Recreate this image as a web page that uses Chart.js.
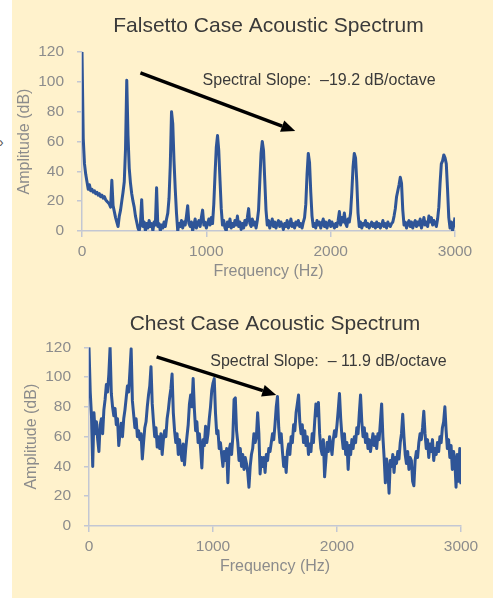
<!DOCTYPE html>
<html>
<head>
<meta charset="utf-8">
<script src="https://cdn.jsdelivr.net/npm/chart.js@4.4.1/dist/chart.umd.min.js"></script>
<style>
  html, body { margin: 0; padding: 0; background: #ffffff; }
  body { width: 495px; height: 599px; position: relative; overflow: hidden; font-family: "Liberation Sans", Arial, sans-serif; }
  #panel { position: absolute; left: 12px; top: 0; width: 481px; height: 598px; background: #FFF2CC; }
  #box1 { position: absolute; left: 0; top: 0; }
  #box2 { position: absolute; left: 0; top: 300px; }
  #mark { position: absolute; left: -1px; top: 134px; color: #555; font-size: 14px; }
</style>
</head>
<body>
<span id="mark">›</span>
<div id="panel">
  <canvas id="box1" width="481" height="290"></canvas>
  <canvas id="box2" width="481" height="298"></canvas>
</div>
<script>
// sample frequencies, every 10 Hz from 0 to 3000
const freqStep = 10;
const freqs = [];
for (let f = 0; f <= 3000; f += freqStep) freqs.push(f);

// falsetto spectrum amplitudes (dB), one row = 100 Hz
const falsettoAmp = [
  120, 62, 45, 38, 33, 28, 31, 27, 28, 26,
  27, 25, 26, 24, 25, 23, 24, 22, 23, 21,
  20, 19, 18, 16, 34, 17, 13, 9, 6, 3,
  10, 14, 20, 26, 33, 55, 101, 64, 42, 32,
  25, 20, 16, 10, 6, 2, 0, 5, 21, 3,
  6, 0, 5, 2, 7, 3, 5, 0, 6, 4,
  29, 3, 5, 0, 4, 2, 6, 3, 8, 12,
  22, 44, 80, 72, 47, 28, 12, 0, 5, 3,
  7, 2, 6, 4, 10, 17, 5, 3, 6, 0,
  4, 8, 2, 5, 7, 3, 9, 14, 4, 6,
  2, 5, 8, 4, 9, 5, 18, 38, 56, 64,
  54, 34, 15, 4, 7, 2, 0, 6, 3, 8,
  2, 5, 3, 7, 4, 10, 3, 6, 1, 5,
  2, 7, 4, 9, 15, 5, 3, 8, 4, 6,
  2, 7, 14, 33, 52, 60, 54, 34, 14, 4,
  7, 2, 5, 8, 3, 6, 2, 5, 7, 3,
  6, 4, 1, 5, 3, 7, 2, 4, 8, 3,
  5, 2, 6, 4, 7, 3, 5, 2, 6, 9,
  18, 38, 52, 46, 26, 10, 3, 5, 2, 7,
  4, 6, 2, 5, 8, 3, 6, 2, 5, 7,
  3, 6, 4, 2, 5, 3, 7, 13, 4, 9,
  6, 12, 5, 3, 8, 6, 12, 26, 43, 52,
  49, 33, 12, 3, 6, 2, 5, 4, 7, 3,
  5, 2, 4, 6, 3, 5, 2, 6, 3, 5,
  2, 4, 7, 3, 5, 2, 6, 4, 3, 5,
  6, 10, 15, 23, 27, 31, 36, 32, 14, 4,
  6, 2, 5, 7, 3, 6, 2, 5, 7, 3,
  6, 4, 8, 2, 5, 9, 4, 6, 3, 10,
  6, 9, 4, 7, 5, 3, 8, 16, 32, 45,
  47, 51, 49, 45, 28, 9, 2, 6, 0, 4,
  9
];

// chest spectrum amplitudes (dB), one row = 100 Hz
const chestAmp = [
  120, 90, 74, 40, 76, 62, 70, 58, 50, 68,
  72, 62, 78, 85, 95, 90, 102, 120, 89, 80,
  74, 79, 68, 72, 54, 62, 69, 60, 72, 78,
  86, 94, 90, 104, 119, 84, 75, 66, 72, 60,
  64, 58, 62, 45, 56, 66, 70, 80, 88, 94,
  107, 82, 70, 60, 66, 53, 60, 52, 62, 48,
  58, 64, 60, 72, 78, 86, 92, 102, 76, 64,
  56, 62, 48, 58, 50, 44, 55, 41, 52, 60,
  68, 82, 88, 80, 99, 78, 64, 70, 56, 62,
  52, 39, 58, 54, 67, 56, 62, 72, 80, 91,
  96, 99, 76, 62, 64, 52, 56, 48, 40, 50,
  44, 52, 29, 51, 55, 48, 60, 85, 86, 64,
  56, 44, 52, 40, 48, 38, 46, 42, 36, 26,
  40, 48, 52, 62, 56, 60, 76, 62, 35, 46,
  40, 46, 36, 48, 44, 52, 50, 56, 62, 58,
  68, 80, 87, 66, 56, 62, 50, 40, 46, 36,
  50, 55, 48, 60, 56, 68, 64, 76, 82, 88,
  70, 62, 68, 56, 64, 54, 60, 48, 55, 50,
  62, 56, 70, 82, 74, 83, 62, 52, 48, 58,
  33, 44, 56, 50, 60, 54, 48, 58, 64, 60,
  68, 78, 89, 72, 60, 52, 62, 48, 56, 38,
  54, 48, 58, 52, 60, 56, 66, 62, 76, 88,
  70, 60, 66, 56, 62, 52, 58, 50, 56, 62,
  54, 60, 52, 62, 58, 70, 82, 60, 46, 29,
  45, 38, 22, 44, 40, 48, 36, 46, 42, 50,
  45, 56, 62, 75, 60, 48, 42, 50, 38, 46,
  44, 30, 27, 44, 50, 46, 56, 62, 58, 66,
  77, 62, 52, 58, 46, 55, 50, 58, 44, 52,
  48, 56, 50, 60, 56, 66, 70, 80, 64, 52,
  58, 46, 54, 38, 50, 44, 26, 48, 30, 52,
  28
];

const xTicks = [0, 1000, 2000, 3000];
const yTicks = [0, 20, 40, 60, 80, 100, 120];

// slope annotations: arrow [Hz, dB] -> [Hz, dB], label anchor [Hz, dB]
const falsettoArrow = [[470, 106], [1715, 67]];
const falsettoLabelAt = [970, 101];
const chestArrow = [[545, 113.5], [1510, 88]];
const chestLabelAt = [978, 110.5];

const FONT = '"Liberation Sans", Arial, sans-serif';
const lineBlue = '#2F5597';
const axisGray = '#C3C7D3';
const tickGray = '#8C8C8C';
const darkText = '#3A3A3A';

const slopePlugin = {
    id: "slope",
    afterDatasetsDraw(chart, args, o) {
        const ctx = chart.ctx;
        const x = chart.scales.x;
        const y = chart.scales.y;
        const x1 = x.getPixelForValue(o.arrow[0][0]);
        const y1 = y.getPixelForValue(o.arrow[0][1]);
        const x2 = x.getPixelForValue(o.arrow[1][0]);
        const y2 = y.getPixelForValue(o.arrow[1][1]);
        const ang = Math.atan2(y2 - y1, x2 - x1);
        const head = 14, half = 6;
        const bx = x2 - head * Math.cos(ang);
        const by = y2 - head * Math.sin(ang);
        ctx.save();
        ctx.strokeStyle = "#000";
        ctx.fillStyle = "#000";
        ctx.lineWidth = 3.4;
        ctx.beginPath();
        ctx.moveTo(x1, y1);
        ctx.lineTo(bx, by);
        ctx.stroke();
        ctx.beginPath();
        ctx.moveTo(x2, y2);
        ctx.lineTo(bx + half * Math.sin(ang), by - half * Math.cos(ang));
        ctx.lineTo(bx - half * Math.sin(ang), by + half * Math.cos(ang));
        ctx.closePath();
        ctx.fill();
        ctx.font = "16px " + FONT;
        ctx.fillStyle = darkText;
        ctx.textAlign = "left";
        ctx.textBaseline = "middle";
        ctx.fillText(o.text, x.getPixelForValue(o.labelAt[0]), y.getPixelForValue(o.labelAt[1]));
        ctx.restore();
    }
};

function makeChart(id, amps, s) {
    const points = [];
    for (let i = 0; i < freqs.length; i++) {
        points.push({ x: freqs[i], y: amps[i] });
    }
    return new Chart(document.getElementById(id), {
        type: "line",
        data: {
            datasets: [{
                data: points,
                borderColor: lineBlue,
                borderWidth: 3,
                borderJoinStyle: "round",
                pointRadius: 0,
                tension: 0,
                fill: false
            }]
        },
        plugins: [slopePlugin],
        options: {
            responsive: false,
            animation: false,
            layout: { padding: { left: 0, right: s.padRight, top: 0, bottom: 0 } },
            plugins: {
                legend: { display: false },
                tooltip: { enabled: false },
                title: {
                    display: true,
                    text: s.title,
                    fullSize: false,
                    color: darkText,
                    font: { family: FONT, size: 21, weight: "normal" },
                    padding: { top: s.titleTop, bottom: s.titleBottom }
                },
                slope: { arrow: s.arrow, labelAt: s.labelAt, text: s.text }
            },
            scales: {
                x: {
                    type: "linear",
                    min: 0,
                    max: 3000,
                    afterBuildTicks: (sc) => { sc.ticks = xTicks.map(v => ({ value: v })); },
                    ticks: {
                        color: tickGray,
                        font: { family: FONT, size: 15.5 },
                        padding: s.xTickPad,
                        maxRotation: 0,
                        callback: (v) => String(v)
                    },
                    grid: { drawOnChartArea: false, drawTicks: true, tickLength: 6, color: axisGray, lineWidth: 1.5 },
                    border: { color: axisGray, width: 1.5 },
                    title: {
                        display: true,
                        text: "Frequency (Hz)",
                        color: tickGray,
                        font: { family: FONT, size: 16 },
                        padding: { top: 0, bottom: s.xTitlePad }
                    },
                    afterFit: (sc) => { sc.height = s.xHeight; }
                },
                y: {
                    min: 0,
                    max: 120,
                    afterBuildTicks: (sc) => { sc.ticks = yTicks.map(v => ({ value: v })); },
                    ticks: {
                        color: tickGray,
                        font: { family: FONT, size: 15.5 },
                        padding: 13
                    },
                    grid: { drawOnChartArea: false, drawTicks: true, tickLength: 5, color: axisGray, lineWidth: 1.5 },
                    border: { color: axisGray, width: 1.5 },
                    title: {
                        display: true,
                        text: "Amplitude (dB)",
                        color: tickGray,
                        font: { family: FONT, size: 16 },
                        padding: { top: s.yTitlePad, bottom: 0 }
                    },
                    afterFit: (sc) => { sc.width = s.yWidth; }
                }
            }
        }
    });
}

makeChart("box1", falsettoAmp, {
    title: "Falsetto Case Acoustic Spectrum",
    padRight: 38, titleTop: 14, titleBottom: 12.8,
    xHeight: 59, yWidth: 70, xTickPad: 5.7, xTitlePad: 8.4, yTitlePad: 3.4,
    arrow: falsettoArrow, labelAt: falsettoLabelAt,
    text: "Spectral Slope:  \u201319.2 dB/octave"
});

makeChart("box2", chestAmp, {
    title: "Chest Case Acoustic Spectrum",
    padRight: 32, titleTop: 11.4, titleBottom: 10.7,
    xHeight: 72, yWidth: 77, xTickPad: 5.4, xTitlePad: 21.7, yTitlePad: 10.1,
    arrow: chestArrow, labelAt: chestLabelAt,
    text: "Spectral Slope:  \u2013 11.9 dB/octave"
});
</script>
</body>
</html>
